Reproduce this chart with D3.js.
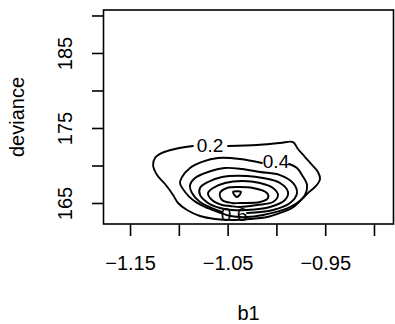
<!DOCTYPE html>
<html><head><meta charset="utf-8">
<script src="https://cdn.jsdelivr.net/npm/d3@7"></script>
<style>body{margin:0;background:#fff}svg{display:block}</style>
</head><body>
<svg id="chart" width="395" height="324"></svg>
<script>
// ---- data (b1, deviance) ----
const xTicks = [-1.15, -1.10, -1.05, -1.00, -0.95, -0.90];
const xTickLabels = ["\u22121.15", "", "\u22121.05", "", "\u22120.95", ""];
const yTicks = [165, 170, 175, 180, 185, 190];
const yTickLabels = ["165", "", "175", "", "185", ""];
const levels = [0.2, 0.4, 0.6, 0.8, 1.0, 1.2, 1.4];

const c02 = [[-1.0496,172.6],[-1.0199,172.73],[-0.9963,173.0],[-0.9830,173.13],[-0.9779,172.2],[-0.9707,171.13],[-0.9635,170.07],[-0.9574,169.13],[-0.9553,168.2],[-0.9594,167.27],[-0.9676,166.33],[-0.9748,165.4],[-0.9840,164.33],[-0.9963,163.67],[-1.0096,163.13],[-1.0270,162.87],[-1.0455,162.73],[-1.0629,162.87],[-1.0783,163.27],[-1.0916,164.07],[-1.1008,165.0],[-1.1059,166.07],[-1.1141,167.53],[-1.1223,168.73],[-1.1264,170.07],[-1.1244,171.0],[-1.1172,171.67],[-1.1039,172.2],[-1.0855,172.6]];
const c04 = [[-0.9871,170.2],[-0.9789,169.67],[-0.9738,168.73],[-0.9686,167.4],[-0.9707,166.07],[-0.9789,165.0],[-0.9932,164.07],[-1.0137,163.4],[-1.0301,163.13],[-1.0475,163.27],[-1.0598,163.8],[-1.0732,164.47],[-1.0855,165.4],[-1.0936,166.47],[-1.0988,167.67],[-1.0967,168.47],[-1.0885,169.67],[-1.0762,170.47],[-1.0598,171.0],[-1.0373,170.87],[-1.0148,170.33]];
const c06 = [[-1.0301,163.67],[-1.0035,164.07],[-0.9861,165.0],[-0.9789,166.33],[-0.9830,167.67],[-0.9963,168.73],[-1.0168,169.13],[-1.0352,169.53],[-1.0527,169.67],[-1.0701,169.13],[-1.0834,168.33],[-1.0885,167.4],[-1.0865,166.33],[-1.0783,165.13],[-1.0660,164.33],[-1.0557,163.8]];
const c08 = [[-1.0301,168.6],[-1.0137,168.33],[-0.9963,167.67],[-0.9881,166.47],[-0.9912,165.4],[-1.0066,164.47],[-1.0301,164.07],[-1.0455,164.07],[-1.0578,164.33],[-1.0701,165.0],[-1.0783,166.07],[-1.0783,167.0],[-1.0701,167.8],[-1.0557,168.47]];
const c10 = [[-1.0352,167.93],[-1.0168,167.67],[-1.0035,167.0],[-0.9984,166.07],[-1.0035,165.13],[-1.0199,164.73],[-1.0373,164.47],[-1.0475,164.6],[-1.0557,164.73],[-1.0660,165.4],[-1.0701,166.33],[-1.0650,167.0],[-1.0527,167.67]];
const c12 = [[-1.0393,167.13],[-1.0240,167.0],[-1.0096,166.33],[-1.0086,165.67],[-1.0168,165.13],[-1.0373,165.0],[-1.0455,165.0],[-1.0557,165.4],[-1.0578,166.33],[-1.0506,167.0]];
const c14 = [[-1.0445,166.47],[-1.0363,166.47],[-1.0404,165.8]];

const contourLines = [
  {level: 0.2, pts: c02, closed: false},
  {level: 0.4, pts: c04, closed: false},
  {level: 0.6, pts: c06, closed: false},
  {level: 0.8, pts: c08, closed: true},
  {level: 1.0, pts: c10, closed: true},
  {level: 1.2, pts: c12, closed: true},
  {level: 1.4, pts: c14, closed: true}
];
const contourLabels = [
  {text: "0.2", b1: -1.068, dev: 172.6},
  {text: "0.4", b1: -1.0004, dev: 170.47},
  {text: "0.6", b1: -1.0434, dev: 163.53}
];

// ---- layout ----
const L = 103.5, R = 393.5, T = 10, B = 224;
const svg = d3.select("#chart");
const x = d3.scaleLinear().domain([-1.1772, -0.8800]).range([L, R]);
const y = d3.scaleLinear().domain([162.2, 190.73]).range([B, T]);
const font = "'Liberation Sans', Arial, Helvetica, sans-serif";

// contours
const lineOpen = d3.line().x(d => x(d[0])).y(d => y(d[1])).curve(d3.curveCatmullRom.alpha(0.5));
const lineClosed = d3.line().x(d => x(d[0])).y(d => y(d[1])).curve(d3.curveCatmullRomClosed.alpha(0.5));
svg.append("g").selectAll("path").data(contourLines).join("path")
  .attr("d", d => (d.closed ? lineClosed : lineOpen)(d.pts))
  .attr("fill", "none").attr("stroke", "#000").attr("stroke-width", 1.9)
  .attr("stroke-linejoin", "round").attr("stroke-linecap", "round");

svg.append("g").selectAll("text").data(contourLabels).join("text")
  .attr("x", d => x(d.b1)).attr("y", d => y(d.dev))
  .attr("text-anchor", "middle").attr("dominant-baseline", "central")
  .attr("font-family", font).attr("font-size", 19).attr("fill", "#000")
  .text(d => d.text);

// box
svg.append("rect").attr("x", L).attr("y", T).attr("width", R - L).attr("height", B - T)
  .attr("fill", "none").attr("stroke", "#000").attr("stroke-width", 1.6);

// x axis
const xAxis = d3.axisBottom(x).tickValues(xTicks).tickSize(12).tickPadding(20)
  .tickFormat((d, i) => xTickLabels[i]);
const gx = svg.append("g").attr("transform", `translate(0,${B})`).call(xAxis);
gx.select(".domain").remove();
gx.selectAll("line").attr("stroke", "#000").attr("stroke-width", 1.6);
gx.selectAll("text").attr("font-family", font).attr("font-size", 20).attr("fill", "#000");

// y axis
const yAxis = d3.axisLeft(y).tickValues(yTicks).tickSize(11.5).tickPadding(8)
  .tickFormat((d, i) => yTickLabels[i]);
const gy = svg.append("g").attr("transform", `translate(${L},0)`).call(yAxis);
gy.select(".domain").remove();
gy.selectAll("line").attr("stroke", "#000").attr("stroke-width", 1.6);
gy.selectAll("text").attr("font-family", font).attr("font-size", 20).attr("fill", "#000")
  .attr("text-anchor", "middle").attr("dy", null).attr("x", null).attr("y", null)
  .attr("transform", "translate(-31.5,0) rotate(-90)");

// axis titles
svg.append("text").attr("x", (L + R) / 2).attr("y", 320).attr("text-anchor", "middle")
  .attr("font-family", font).attr("font-size", 20).text("b1");
svg.append("text").attr("transform", `translate(24,${(T + B) / 2}) rotate(-90)`)
  .attr("text-anchor", "middle").attr("font-family", font).attr("font-size", 20).text("deviance");
</script>
</body></html>
